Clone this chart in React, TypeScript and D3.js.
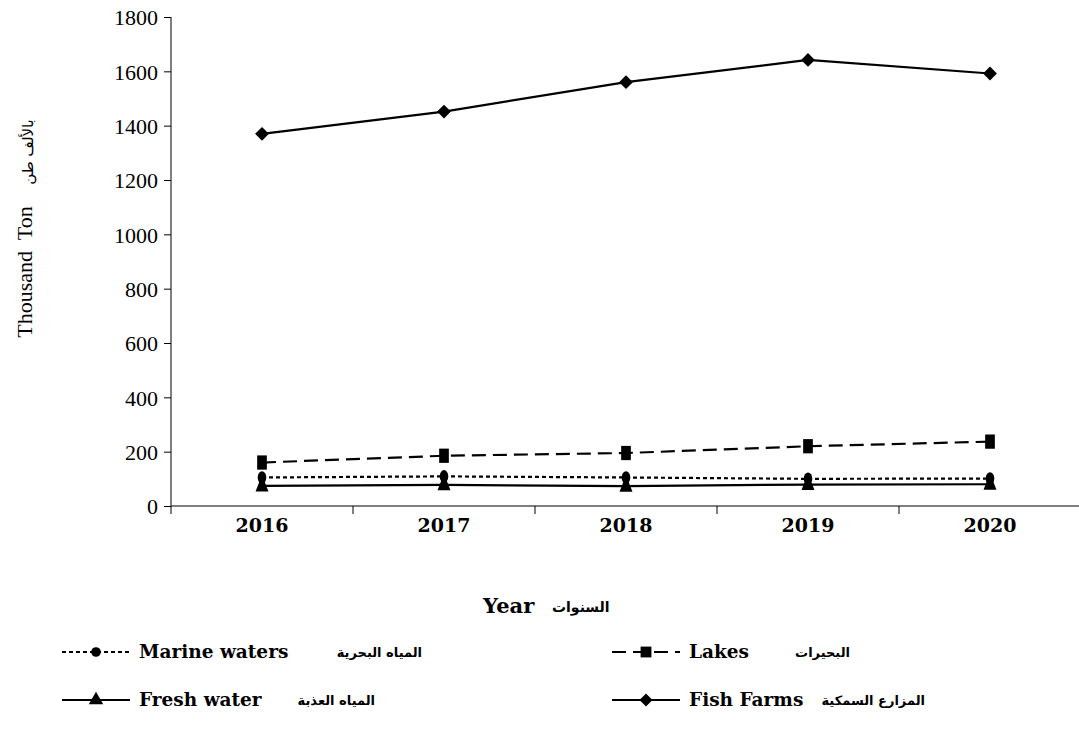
import React, { useEffect, useRef } from 'react';
import * as d3 from 'd3';

const years = ['2016', '2017', '2018', '2019', '2020'];
const yTicks = [0, 200, 400, 600, 800, 1000, 1200, 1400, 1600, 1800];
const marineWaters = [105, 109, 105, 100, 101];
const lakes = [160, 185, 195, 220, 237];
const freshWater = [74, 78, 73, 79, 80];
const fishFarms = [1370, 1452, 1560, 1642, 1592];

const seriesNames = ['Marine waters', 'Lakes', 'Fresh water', 'Fish Farms'];
const seriesArabic = ['المياه البحرية', 'البحيرات', 'المياه العذبة', 'المزارع السمكية'];

const serif = "'Liberation Serif', 'Times New Roman', serif";
const boldSerif = "'DejaVu Serif', serif";
const arabicFont = "'DejaVu Sans', sans-serif";

export default function App() {
    const ref = useRef<SVGSVGElement>(null);

    useEffect(() => {
        let svg = d3.select(ref.current);
        svg.selectAll('*').remove();

        let left = 171, right = 1081, top = 17, bottom = 506;

        let scaleX = d3.scaleBand().domain(years).range([left, right]);
        let scaleY = d3.scaleLinear().domain([0, 1800]).range([bottom, top]);
        let cx = (y: string) => (scaleX(y) as number) + scaleX.bandwidth() / 2;

        // axes
        let yAxis = d3.axisLeft(scaleY).tickValues(yTicks).tickSize(7).tickPadding(6).tickFormat(d3.format('d'));
        let gy = svg.append('g')
            .attr('transform', 'translate(' + left + ',0)')
            .call(yAxis)
            .attr('font-family', serif)
            .attr('font-size', 22);
        gy.selectAll('text').attr('fill', '#000').attr('dy', '0.35em');
        gy.selectAll('line,path').attr('stroke', '#000');
        gy.select('path').attr('d', 'M0,' + top + 'V' + bottom);

        svg.append('line')
            .attr('x1', left).attr('x2', right)
            .attr('y1', bottom).attr('y2', bottom)
            .attr('stroke', '#000');
        svg.append('g')
            .selectAll('line')
            .data(years)
            .enter()
                .append('line')
                .attr('x1', d => scaleX(d) as number).attr('x2', d => scaleX(d) as number)
                .attr('y1', bottom).attr('y2', bottom + 8)
                .attr('stroke', '#000');
        svg.append('g')
            .selectAll('text')
            .data(years)
            .enter()
                .append('text')
                .attr('x', d => cx(d))
                .attr('y', 532)
                .attr('text-anchor', 'middle')
                .attr('font-family', boldSerif)
                .attr('font-weight', 'bold')
                .attr('font-size', 19)
                .text(d => d);

        // axis titles
        svg.append('text')
            .attr('transform', 'translate(32,272) rotate(-90)')
            .attr('text-anchor', 'middle')
            .attr('font-family', serif)
            .attr('font-size', 22)
            .attr('xml:space', 'preserve')
            .text('Thousand  Ton');
        svg.append('text')
            .attr('transform', 'translate(33,152) rotate(-90)')
            .attr('text-anchor', 'middle')
            .attr('font-family', arabicFont)
            .attr('font-size', 15)
            .text('بالألف طن');

        svg.append('text')
            .attr('x', 483).attr('y', 613)
            .attr('font-family', boldSerif).attr('font-weight', 'bold').attr('font-size', 21)
            .text('Year');
        svg.append('text')
            .attr('x', 552).attr('y', 612)
            .attr('font-family', arabicFont).attr('font-weight', 'bold').attr('font-size', 14)
            .text('السنوات');

        let styles = [
            { data: marineWaters, dash: '4,3', marker: d3.symbolCircle, size: 80, rot: 0 },
            { data: lakes, dash: '14,7', marker: d3.symbolSquare, size: 130, rot: 0 },
            { data: freshWater, dash: null, marker: d3.symbolTriangle, size: 100, rot: 0 },
            { data: fishFarms, dash: null, marker: d3.symbolSquare, size: 95, rot: 45 },
        ];

        let line = d3.line<number>()
            .x((d, i) => cx(years[i]))
            .y(d => scaleY(d));

        styles.forEach(s => {
            svg.append('path')
                .datum(s.data)
                .attr('fill', 'none')
                .attr('stroke', '#000')
                .attr('stroke-width', 2.2)
                .attr('stroke-dasharray', s.dash)
                .attr('d', line);
            svg.append('g')
                .selectAll('path')
                .data(s.data)
                .enter()
                    .append('path')
                    .attr('transform', (d, i) => 'translate(' + cx(years[i]) + ',' + scaleY(d) + ') rotate(' + s.rot + ') scale(' + (s.rot ? 1 : 0.85) + ',' + (s.rot ? 1 : 1.25) + ')')
                    .attr('d', d3.symbol().type(s.marker).size(s.size)())
                    .attr('fill', '#000');
        });

        // legend
        let legendPos = [
            { x: 62, y: 652, ax: 422 },
            { x: 612, y: 652, ax: 850 },
            { x: 62, y: 700, ax: 375 },
            { x: 612, y: 700, ax: 925 },
        ];
        styles.forEach((s, i) => {
            let p = legendPos[i];
            let g = svg.append('g');
            g.append('line')
                .attr('x1', p.x).attr('x2', p.x + 68)
                .attr('y1', p.y).attr('y2', p.y)
                .attr('stroke', '#000')
                .attr('stroke-width', 2)
                .attr('stroke-dasharray', s.dash);
            g.append('path')
                .attr('transform', 'translate(' + (p.x + 34) + ',' + p.y + ') rotate(' + s.rot + ')')
                .attr('d', d3.symbol().type(s.marker).size(s.size * 0.9)())
                .attr('fill', '#000');
            g.append('text')
                .attr('x', p.x + 77).attr('y', p.y + 6)
                .attr('font-family', boldSerif).attr('font-weight', 'bold').attr('font-size', 18.5)
                .text(seriesNames[i]);
            g.append('text')
                .attr('x', p.ax).attr('y', p.y + 5)
                .attr('text-anchor', 'end')
                .attr('font-family', arabicFont).attr('font-weight', 'bold').attr('font-size', 13)
                .text(seriesArabic[i]);
        });
    }, []);

    return (
        <svg ref={ref} width={1079} height={729}
            style={{ position: 'absolute', left: 0, top: 0, background: '#fff' }} />
    );
}
